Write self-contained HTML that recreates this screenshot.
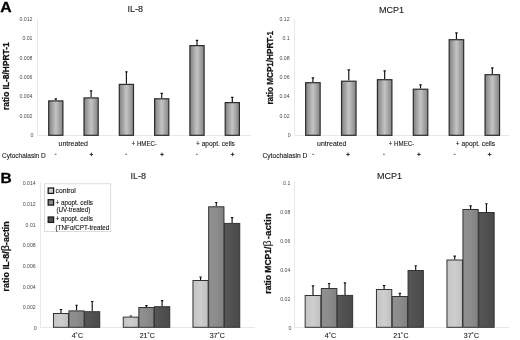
<!DOCTYPE html>
<html><head><meta charset="utf-8"><title>fig</title>
<style>
html,body{margin:0;padding:0;background:#fff;}
body{width:520px;height:340px;overflow:hidden;}
svg{display:block;font-family:"Liberation Sans",sans-serif;filter:blur(0.3px);}
.tick{font-size:5.2px;fill:#4a4a4a;text-anchor:end;}
.lab{font-size:7px;fill:#161616;stroke:#161616;stroke-width:0.1px;}
.labm{font-size:7px;fill:#161616;text-anchor:middle;stroke:#161616;stroke-width:0.1px;}
.title{font-size:9px;fill:#222;text-anchor:middle;stroke:#222;stroke-width:0.12px;}
.ylab{font-size:8.8px;font-weight:bold;fill:#111;stroke:#111;stroke-width:0.25px;}
.panel{font-size:15px;font-weight:bold;fill:#000;stroke:#000;stroke-width:0.3px;}
.leg{font-size:6.6px;fill:#111;stroke:#111;stroke-width:0.1px;}
</style></head><body>
<svg width="520" height="340" viewBox="0 0 520 340">
<defs>
<linearGradient id="gA" x1="0" x2="1" y1="0" y2="0">
<stop offset="0" stop-color="#808080"/><stop offset="0.5" stop-color="#c4c4c4"/><stop offset="1" stop-color="#848484"/>
</linearGradient>
<linearGradient id="gL" x1="0" x2="1" y1="0" y2="0">
<stop offset="0" stop-color="#c4c4c4"/><stop offset="0.5" stop-color="#cecece"/><stop offset="1" stop-color="#c0c0c0"/>
</linearGradient>
<linearGradient id="gM" x1="0" x2="1" y1="0" y2="0">
<stop offset="0" stop-color="#909090"/><stop offset="0.5" stop-color="#8c8c8c"/><stop offset="1" stop-color="#808080"/>
</linearGradient>
<linearGradient id="gD" x1="0" x2="1" y1="0" y2="0">
<stop offset="0" stop-color="#565656"/><stop offset="0.5" stop-color="#505050"/><stop offset="1" stop-color="#4a4a4a"/>
</linearGradient>
</defs>
<rect x="-5" y="-5" width="530" height="350" fill="#fff"/>

<path d="M37.5 19V135.5H251" stroke="#e8e8e8" stroke-width="1" fill="none"/>
<text class="tick" x="33.5" y="136.9">0</text>
<text class="tick" x="32.5" y="117.6">0.002</text>
<text class="tick" x="32.5" y="98.2">0.004</text>
<text class="tick" x="32.5" y="78.9">0.006</text>
<text class="tick" x="32.5" y="59.6">0.008</text>
<text class="tick" x="32.5" y="40.3">0.01</text>
<text class="tick" x="32.5" y="20.9">0.012</text>
<path d="M55.80 100.3V98.89999999999999M54.60 98.89999999999999H57.00" stroke="#111" stroke-width="1.15" fill="none"/>
<rect x="48.70" y="100.90" width="14.20" height="34.40" fill="url(#gA)" stroke="#2c2c2c" stroke-width="1.2"/>
<path d="M91.10 97.3V90.8M89.90 90.8H92.30" stroke="#111" stroke-width="1.15" fill="none"/>
<rect x="84.00" y="97.90" width="14.20" height="37.40" fill="url(#gA)" stroke="#2c2c2c" stroke-width="1.2"/>
<path d="M126.40 83.8V71.8M125.20 71.8H127.60" stroke="#111" stroke-width="1.15" fill="none"/>
<rect x="119.30" y="84.40" width="14.20" height="50.90" fill="url(#gA)" stroke="#2c2c2c" stroke-width="1.2"/>
<path d="M161.70 98.2V93.3M160.50 93.3H162.90" stroke="#111" stroke-width="1.15" fill="none"/>
<rect x="154.60" y="98.80" width="14.20" height="36.50" fill="url(#gA)" stroke="#2c2c2c" stroke-width="1.2"/>
<path d="M197.00 45.0V40.3M195.80 40.3H198.20" stroke="#111" stroke-width="1.15" fill="none"/>
<rect x="189.90" y="45.60" width="14.20" height="89.70" fill="url(#gA)" stroke="#2c2c2c" stroke-width="1.2"/>
<path d="M232.30 102.0V97.3M231.10 97.3H233.50" stroke="#111" stroke-width="1.15" fill="none"/>
<rect x="225.20" y="102.60" width="14.20" height="32.70" fill="url(#gA)" stroke="#2c2c2c" stroke-width="1.2"/>
<text class="title" x="135.3" y="12.1">IL-8</text>
<text class="ylab" style="font-size:9.2px" textLength="67.6" lengthAdjust="spacingAndGlyphs" transform="translate(8.6,109.9) rotate(-90)">ratio IL-8/HPRT-1</text>
<text class="panel" style="font-size:15.2px" transform="translate(0.3,11.65) scale(1.04,1)">A</text>
<text class="lab" x="58.5" y="146.2" textLength="29.5" lengthAdjust="spacingAndGlyphs">untreated</text>
<text class="lab" x="131.6" y="146.2" textLength="25.4" lengthAdjust="spacingAndGlyphs">+ HMEC-</text>
<text class="lab" x="196" y="146.2" textLength="38.9" lengthAdjust="spacingAndGlyphs">+ apopt. cells</text>
<text class="lab" x="2" y="158" textLength="43.7" lengthAdjust="spacingAndGlyphs">Cytochalasin D</text>
<path d="M54.75 154.3h1.7" stroke="#333" stroke-width="0.8"/>
<path d="M89.60 154.4h3.6M91.40 152.6v3.6" stroke="#222" stroke-width="0.9"/>
<path d="M125.35 154.3h1.7" stroke="#333" stroke-width="0.8"/>
<path d="M160.20 154.4h3.6M162.00 152.6v3.6" stroke="#222" stroke-width="0.9"/>
<path d="M195.95 154.3h1.7" stroke="#333" stroke-width="0.8"/>
<path d="M230.80 154.4h3.6M232.60 152.6v3.6" stroke="#222" stroke-width="0.9"/>
<path d="M294.5 19V135.5H509" stroke="#e8e8e8" stroke-width="1" fill="none"/>
<text class="tick" x="290.6" y="136.9">0</text>
<text class="tick" x="289.6" y="117.6">0.02</text>
<text class="tick" x="289.6" y="98.2">0.04</text>
<text class="tick" x="289.6" y="78.9">0.06</text>
<text class="tick" x="289.6" y="59.6">0.08</text>
<text class="tick" x="289.6" y="40.3">0.1</text>
<text class="tick" x="289.6" y="20.9">0.12</text>
<path d="M312.90 82.1V77.8M311.70 77.8H314.10" stroke="#111" stroke-width="1.15" fill="none"/>
<rect x="305.65" y="82.70" width="14.50" height="52.60" fill="url(#gA)" stroke="#2c2c2c" stroke-width="1.2"/>
<path d="M348.78 80.6V69.8M347.58 69.8H349.98" stroke="#111" stroke-width="1.15" fill="none"/>
<rect x="341.53" y="81.20" width="14.50" height="54.10" fill="url(#gA)" stroke="#2c2c2c" stroke-width="1.2"/>
<path d="M384.66 79.1V70.8M383.46 70.8H385.86" stroke="#111" stroke-width="1.15" fill="none"/>
<rect x="377.41" y="79.70" width="14.50" height="55.60" fill="url(#gA)" stroke="#2c2c2c" stroke-width="1.2"/>
<path d="M420.54 88.6V84.8M419.34 84.8H421.74" stroke="#111" stroke-width="1.15" fill="none"/>
<rect x="413.29" y="89.20" width="14.50" height="46.10" fill="url(#gA)" stroke="#2c2c2c" stroke-width="1.2"/>
<path d="M456.42 39.1V32.8M455.22 32.8H457.62" stroke="#111" stroke-width="1.15" fill="none"/>
<rect x="449.17" y="39.70" width="14.50" height="95.60" fill="url(#gA)" stroke="#2c2c2c" stroke-width="1.2"/>
<path d="M492.30 74.1V67.8M491.10 67.8H493.50" stroke="#111" stroke-width="1.15" fill="none"/>
<rect x="485.05" y="74.70" width="14.50" height="60.60" fill="url(#gA)" stroke="#2c2c2c" stroke-width="1.2"/>
<text class="title" x="391.4" y="12.5">MCP1</text>
<text class="ylab" style="font-size:9.2px" textLength="73.6" lengthAdjust="spacingAndGlyphs" transform="translate(272.8,104.6) rotate(-90)">ratio MCP1/HPRT-1</text>
<text class="lab" x="317.1" y="146.4" textLength="29.4" lengthAdjust="spacingAndGlyphs">untreated</text>
<text class="lab" x="388.8" y="146.3" textLength="25.5" lengthAdjust="spacingAndGlyphs">+ HMEC-</text>
<text class="lab" x="455.8" y="146.3" textLength="39.3" lengthAdjust="spacingAndGlyphs">+ apopt. cells</text>
<text class="lab" x="262.4" y="158.1" textLength="45" lengthAdjust="spacingAndGlyphs">Cytochalasin D</text>
<path d="M312.25 154.3h1.7" stroke="#333" stroke-width="0.8"/>
<path d="M346.20 154.4h3.6M348.00 152.6v3.6" stroke="#222" stroke-width="0.9"/>
<path d="M383.05 154.3h1.7" stroke="#333" stroke-width="0.8"/>
<path d="M417.10 154.4h3.6M418.90 152.6v3.6" stroke="#222" stroke-width="0.9"/>
<path d="M453.85 154.3h1.7" stroke="#333" stroke-width="0.8"/>
<path d="M487.80 154.4h3.6M489.60 152.6v3.6" stroke="#222" stroke-width="0.9"/>
<path d="M40.5 182V327.5H255" stroke="#e8e8e8" stroke-width="1" fill="none"/>
<text class="tick" x="36.7" y="329.8">0</text>
<text class="tick" x="35.7" y="309.2">0.002</text>
<text class="tick" x="35.7" y="288.5">0.004</text>
<text class="tick" x="35.7" y="267.9">0.006</text>
<text class="tick" x="35.7" y="247.2">0.008</text>
<text class="tick" x="35.7" y="226.6">0.01</text>
<text class="tick" x="35.7" y="206.0">0.012</text>
<text class="tick" x="35.7" y="185.3">0.014</text>
<path d="M60.95 313V309.5M59.75 309.5H62.15" stroke="#111" stroke-width="1.15" fill="none"/>
<rect x="53.45" y="313.50" width="15.00" height="13.80" fill="url(#gL)" stroke="#333" stroke-width="1.0"/>
<path d="M76.55 310.4V305.2M75.35 305.2H77.75" stroke="#111" stroke-width="1.15" fill="none"/>
<rect x="68.95" y="310.90" width="15.20" height="16.40" fill="url(#gM)" stroke="#333" stroke-width="1.0"/>
<path d="M92.20 311.2V301.5M91.00 301.5H93.40" stroke="#111" stroke-width="1.15" fill="none"/>
<rect x="84.65" y="311.70" width="15.10" height="15.60" fill="url(#gD)" stroke="#333" stroke-width="1.0"/>
<path d="M130.80 316.6V316.0M129.60 316.0H132.00" stroke="#111" stroke-width="1.15" fill="none"/>
<rect x="123.25" y="317.10" width="15.10" height="10.20" fill="url(#gL)" stroke="#333" stroke-width="1.0"/>
<path d="M146.40 307V305.6M145.20 305.6H147.60" stroke="#111" stroke-width="1.15" fill="none"/>
<rect x="138.85" y="307.50" width="15.10" height="19.80" fill="url(#gM)" stroke="#333" stroke-width="1.0"/>
<path d="M162.10 306.2V300.6M160.90 300.6H163.30" stroke="#111" stroke-width="1.15" fill="none"/>
<rect x="154.45" y="306.70" width="15.30" height="20.60" fill="url(#gD)" stroke="#333" stroke-width="1.0"/>
<path d="M200.55 280V277M199.35 277H201.75" stroke="#111" stroke-width="1.15" fill="none"/>
<rect x="192.95" y="280.50" width="15.20" height="46.80" fill="url(#gL)" stroke="#333" stroke-width="1.0"/>
<path d="M216.30 206.3V202.5M215.10 202.5H217.50" stroke="#111" stroke-width="1.15" fill="none"/>
<rect x="208.65" y="206.80" width="15.30" height="120.50" fill="url(#gM)" stroke="#333" stroke-width="1.0"/>
<path d="M232.10 222.9V217.6M230.90 217.6H233.30" stroke="#111" stroke-width="1.15" fill="none"/>
<rect x="224.45" y="223.40" width="15.30" height="103.90" fill="url(#gD)" stroke="#333" stroke-width="1.0"/>
<text class="title" x="138.3" y="179.1">IL-8</text>
<text class="ylab" textLength="70.2" lengthAdjust="spacingAndGlyphs" transform="translate(9.4,291.4) rotate(-90)">ratio IL-8/<tspan font-weight="normal" font-size="10.6">β</tspan>-actin</text>
<text class="panel" x="0.45" y="182.75" style="font-size:15.5px">B</text>
<text class="labm" x="77.3" y="338.3">4˚C</text>
<text class="labm" x="147.3" y="338.3">21˚C</text>
<text class="labm" x="217.3" y="338.3">37˚C</text>
<rect x="44.5" y="183.8" width="66.2" height="47.6" fill="#fff" stroke="#d4d4d4" stroke-width="0.8"/>
<rect x="48.2" y="188.0" width="5.4" height="5.4" fill="#d0d0d0" stroke="#1c1c1c" stroke-width="1.3"/>
<rect x="48.2" y="199.7" width="5.4" height="5.4" fill="#8a8a8a" stroke="#1c1c1c" stroke-width="1.3"/>
<rect x="48.2" y="217.0" width="5.4" height="5.4" fill="#505050" stroke="#1c1c1c" stroke-width="1.3"/>
<text class="leg" x="55.6" y="193" textLength="20.2" lengthAdjust="spacingAndGlyphs">control</text>
<text class="leg" x="55.6" y="204.7" textLength="37.4" lengthAdjust="spacingAndGlyphs">+ apopt. cells</text>
<text class="leg" x="56.4" y="211.8" textLength="34" lengthAdjust="spacingAndGlyphs">(UV-treated)</text>
<text class="leg" x="55.6" y="221.3" textLength="37.4" lengthAdjust="spacingAndGlyphs">+ apopt. cells</text>
<text class="leg" x="55.6" y="229.5" textLength="53.6" lengthAdjust="spacingAndGlyphs">(TNFα/CPT-treated</text>
<path d="M294.5 182V327.5H509" stroke="#e8e8e8" stroke-width="1" fill="none"/>
<text class="tick" x="291.3" y="329.9">0</text>
<text class="tick" x="290.3" y="301.0">0.02</text>
<text class="tick" x="290.3" y="272.1">0.04</text>
<text class="tick" x="290.3" y="243.2">0.06</text>
<text class="tick" x="290.3" y="214.3">0.08</text>
<text class="tick" x="290.3" y="185.4">0.1</text>
<path d="M313.00 295V285.8M311.80 285.8H314.20" stroke="#111" stroke-width="1.15" fill="none"/>
<rect x="305.15" y="295.50" width="15.70" height="31.80" fill="url(#gL)" stroke="#333" stroke-width="1.0"/>
<path d="M329.10 288V283.5M327.90 283.5H330.30" stroke="#111" stroke-width="1.15" fill="none"/>
<rect x="321.35" y="288.50" width="15.50" height="38.80" fill="url(#gM)" stroke="#333" stroke-width="1.0"/>
<path d="M345.00 294.9V282.9M343.80 282.9H346.20" stroke="#111" stroke-width="1.15" fill="none"/>
<rect x="337.35" y="295.40" width="15.30" height="31.90" fill="url(#gD)" stroke="#333" stroke-width="1.0"/>
<path d="M384.10 289V285.6M382.90 285.6H385.30" stroke="#111" stroke-width="1.15" fill="none"/>
<rect x="376.45" y="289.50" width="15.30" height="37.80" fill="url(#gL)" stroke="#333" stroke-width="1.0"/>
<path d="M399.90 296V293.4M398.70 293.4H401.10" stroke="#111" stroke-width="1.15" fill="none"/>
<rect x="392.25" y="296.50" width="15.30" height="30.80" fill="url(#gM)" stroke="#333" stroke-width="1.0"/>
<path d="M415.70 270V265.7M414.50 265.7H416.90" stroke="#111" stroke-width="1.15" fill="none"/>
<rect x="408.05" y="270.50" width="15.30" height="56.80" fill="url(#gD)" stroke="#333" stroke-width="1.0"/>
<path d="M454.70 259.5V256.1M453.50 256.1H455.90" stroke="#111" stroke-width="1.15" fill="none"/>
<rect x="446.95" y="260.00" width="15.50" height="67.30" fill="url(#gL)" stroke="#333" stroke-width="1.0"/>
<path d="M470.60 209V205.9M469.40 205.9H471.80" stroke="#111" stroke-width="1.15" fill="none"/>
<rect x="462.95" y="209.50" width="15.30" height="117.80" fill="url(#gM)" stroke="#333" stroke-width="1.0"/>
<path d="M486.45 212V203.7M485.25 203.7H487.65" stroke="#111" stroke-width="1.15" fill="none"/>
<rect x="478.75" y="212.50" width="15.40" height="114.80" fill="url(#gD)" stroke="#333" stroke-width="1.0"/>
<text class="title" x="389.4" y="179.0">MCP1</text>
<g transform="translate(270.9,0) rotate(-90)"><text class="ylab" x="-293.7" y="0" textLength="47.2" lengthAdjust="spacingAndGlyphs">ratio MCP1/</text><text class="ylab" x="-246.6" y="0" style="font-weight:normal;font-size:10.8px;stroke-width:0">β</text><text class="ylab" x="-239.2" y="0" textLength="25.8" lengthAdjust="spacingAndGlyphs">-actin</text></g>
<text class="labm" x="330.4" y="338.3">4˚C</text>
<text class="labm" x="400.9" y="338.3">21˚C</text>
<text class="labm" x="471.4" y="338.3">37˚C</text>
</svg></body></html>
